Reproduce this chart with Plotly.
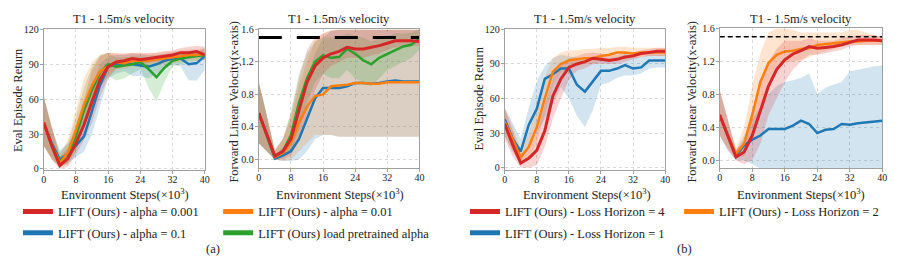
import plotly.graph_objects as go

# ---------------- data ----------------
STEPS = list(range(0, 41, 2))  # x 10^3 environment steps
X_TICKS = [0, 8, 16, 24, 32, 40]
RET_TICKS = [0, 30, 60, 90, 120]
VEL_TICKS = [0.0, 0.4, 0.8, 1.2, 1.6]
VEL_TICK_TEXT = ["0.0", "0.4", "0.8", "1.2", "1.6"]
TARGET_VEL = 1.5
TITLE = "T1 - 1.5m/s velocity"
XLABEL = "Environment Steps(×10<sup>3</sup>)"
YLABEL_RET = "Eval Episode Return"
YLABEL_VEL = "Forward Linear Velocity(x-axis)"

# Panel (a) - return
a_ret_red = [40, 20, 3, 9, 22, 38, 58, 77, 88, 92, 93, 95, 94, 95, 96, 97, 98, 100, 100, 101, 98]
a_ret_red_lo = [20, 8, 0, 2, 12, 25, 40, 62, 78, 86, 88, 90, 90, 91, 92, 93, 95, 96, 97, 97, 93]
a_ret_red_hi = [62, 35, 10, 18, 38, 60, 85, 97, 100, 99, 99, 100, 99, 100, 100, 101, 102, 104, 105, 106, 105]
a_ret_orange = [40, 20, 5, 14, 33, 55, 72, 84, 88, 92, 91, 93, 93, 93, 94, 95, 96, 97, 98, 98, 99]
a_ret_orange_lo = [20, 8, 1, 5, 18, 38, 55, 72, 80, 86, 86, 88, 88, 88, 89, 90, 91, 92, 93, 93, 94]
a_ret_orange_hi = [62, 36, 12, 25, 50, 78, 92, 98, 100, 100, 99, 100, 100, 99, 100, 101, 101, 102, 103, 103, 104]
a_ret_green = [40, 20, 7, 12, 28, 50, 68, 83, 90, 88, 89, 90, 92, 86, 79, 87, 93, 95, 96, 97, 98]
a_ret_green_lo = [20, 8, 2, 4, 15, 35, 52, 70, 80, 76, 78, 82, 86, 70, 58, 75, 88, 90, 92, 93, 94]
a_ret_green_hi = [62, 35, 14, 22, 45, 70, 88, 98, 100, 96, 96, 97, 97, 96, 95, 96, 98, 99, 100, 101, 102]
a_ret_blue = [40, 22, 8, 13, 20, 28, 50, 72, 88, 90, 91, 90, 89, 88, 90, 93, 95, 95, 90, 91, 97]
a_ret_blue_lo = [20, 10, 2, 5, 10, 15, 30, 55, 78, 82, 84, 80, 80, 78, 82, 86, 90, 88, 76, 76, 85]
a_ret_blue_hi = [62, 35, 16, 22, 32, 45, 72, 90, 97, 98, 98, 99, 99, 98, 98, 99, 100, 100, 100, 101, 104]

# Panel (a) - velocity
a_vel_red = [0.57, 0.30, 0.04, 0.10, 0.25, 0.60, 0.95, 1.15, 1.25, 1.30, 1.33, 1.38, 1.36, 1.36, 1.38, 1.40, 1.43, 1.46, 1.46, 1.46, 1.45]
a_vel_red_lo = [0.20, 0.10, 0.00, 0.00, 0.05, 0.25, 0.55, 0.85, 1.05, 1.15, 1.20, 1.25, 1.25, 1.25, 1.28, 1.30, 1.35, 1.38, 1.38, 1.40, 1.40]
a_vel_red_hi = [0.95, 0.55, 0.12, 0.25, 0.55, 1.00, 1.35, 1.50, 1.55, 1.58, 1.60, 1.60, 1.60, 1.60, 1.60, 1.60, 1.60, 1.60, 1.60, 1.60, 1.60]
a_vel_green = [0.57, 0.30, 0.04, 0.10, 0.30, 0.70, 1.00, 1.20, 1.28, 1.25, 1.26, 1.36, 1.30, 1.22, 1.17, 1.25, 1.30, 1.35, 1.39, 1.41, 1.49]
a_vel_green_lo = [0.20, 0.10, 0.00, 0.02, 0.10, 0.35, 0.70, 0.95, 1.05, 1.00, 1.00, 1.10, 1.00, 0.95, 0.90, 1.00, 1.10, 1.15, 1.20, 1.25, 1.35]
a_vel_green_hi = [0.95, 0.55, 0.12, 0.25, 0.60, 1.05, 1.30, 1.45, 1.50, 1.50, 1.50, 1.55, 1.52, 1.50, 1.45, 1.50, 1.52, 1.55, 1.55, 1.56, 1.60]
a_vel_blue = [0.57, 0.30, 0.01, 0.05, 0.10, 0.25, 0.50, 0.75, 0.88, 0.88, 0.88, 0.90, 0.94, 0.94, 0.93, 0.94, 0.96, 0.97, 0.96, 0.96, 0.96]
a_vel_blue_lo = [0.20, 0.10, 0.00, -0.02, -0.02, 0.00, 0.10, 0.25, 0.30, 0.30, 0.28, 0.28, 0.28, 0.28, 0.28, 0.28, 0.28, 0.28, 0.28, 0.28, 0.28]
a_vel_blue_hi = [0.95, 0.55, 0.05, 0.15, 0.30, 0.60, 1.00, 1.30, 1.50, 1.58, 1.60, 1.60, 1.60, 1.60, 1.60, 1.60, 1.60, 1.60, 1.60, 1.60, 1.60]
a_vel_orange = [0.57, 0.30, 0.03, 0.08, 0.20, 0.45, 0.65, 0.78, 0.80, 0.90, 0.91, 0.92, 0.94, 0.94, 0.93, 0.93, 0.95, 0.95, 0.95, 0.95, 0.95]
a_vel_orange_lo = [0.20, 0.10, 0.00, -0.02, 0.00, 0.10, 0.20, 0.30, 0.30, 0.30, 0.28, 0.28, 0.28, 0.28, 0.28, 0.28, 0.28, 0.28, 0.28, 0.28, 0.28]
a_vel_orange_hi = [0.95, 0.55, 0.10, 0.25, 0.50, 0.90, 1.20, 1.45, 1.55, 1.60, 1.60, 1.60, 1.60, 1.60, 1.60, 1.60, 1.60, 1.60, 1.60, 1.60, 1.60]

# Panel (b) - return
b_ret_red = [38, 20, 4, 8, 15, 32, 62, 77, 87, 90, 92, 95, 94, 93, 94, 96, 97, 99, 100, 101, 101]
b_ret_red_lo = [25, 10, 0, 0, 2, 18, 42, 60, 76, 84, 86, 90, 90, 90, 90, 92, 94, 96, 97, 97, 97]
b_ret_red_hi = [52, 32, 12, 18, 30, 55, 78, 90, 95, 97, 99, 100, 99, 98, 98, 100, 100, 102, 103, 104, 104]
b_ret_orange = [40, 25, 9, 18, 35, 60, 83, 90, 93, 94, 95, 95, 97, 98, 100, 100, 99, 100, 100, 100, 100]
b_ret_orange_lo = [28, 14, 3, 8, 22, 45, 70, 82, 86, 88, 90, 90, 92, 93, 94, 94, 95, 96, 97, 97, 97]
b_ret_orange_hi = [52, 36, 16, 30, 52, 78, 95, 100, 102, 102, 103, 103, 104, 104, 105, 105, 104, 104, 104, 104, 104]
b_ret_blue = [42, 25, 14, 37, 51, 77, 81, 86, 86, 72, 66, 75, 84, 84, 86, 89, 86, 87, 93, 93, 93]
b_ret_blue_lo = [28, 14, 5, 20, 30, 42, 55, 70, 60, 45, 35, 50, 72, 74, 78, 80, 80, 82, 86, 87, 87]
b_ret_blue_hi = [52, 38, 25, 52, 75, 88, 95, 98, 97, 95, 92, 95, 96, 95, 96, 98, 96, 96, 98, 98, 98]

# Panel (b) - velocity
b_vel_red = [0.55, 0.30, 0.04, 0.10, 0.30, 0.60, 0.90, 1.10, 1.22, 1.29, 1.33, 1.38, 1.36, 1.37, 1.38, 1.40, 1.43, 1.46, 1.46, 1.46, 1.45]
b_vel_red_lo = [0.30, 0.12, 0.00, -0.05, 0.00, 0.20, 0.55, 0.75, 0.95, 1.10, 1.20, 1.28, 1.28, 1.30, 1.32, 1.34, 1.38, 1.40, 1.40, 1.40, 1.40]
b_vel_red_hi = [0.85, 0.50, 0.12, 0.25, 0.60, 0.95, 1.20, 1.35, 1.45, 1.45, 1.45, 1.48, 1.45, 1.45, 1.45, 1.48, 1.50, 1.52, 1.52, 1.52, 1.50]
b_vel_orange = [0.55, 0.30, 0.08, 0.20, 0.55, 0.95, 1.18, 1.28, 1.32, 1.33, 1.35, 1.36, 1.40, 1.41, 1.42, 1.43, 1.44, 1.44, 1.45, 1.45, 1.45]
b_vel_orange_lo = [0.30, 0.15, 0.02, 0.05, 0.25, 0.65, 0.95, 1.10, 1.18, 1.20, 1.22, 1.25, 1.30, 1.32, 1.35, 1.38, 1.40, 1.40, 1.40, 1.40, 1.40]
b_vel_orange_hi = [0.85, 0.50, 0.15, 0.40, 0.90, 1.30, 1.55, 1.60, 1.60, 1.58, 1.55, 1.55, 1.55, 1.55, 1.55, 1.55, 1.58, 1.58, 1.55, 1.52, 1.50]
b_vel_blue = [0.55, 0.30, 0.06, 0.18, 0.25, 0.30, 0.38, 0.38, 0.38, 0.42, 0.48, 0.44, 0.33, 0.37, 0.38, 0.44, 0.43, 0.45, 0.46, 0.47, 0.48]
b_vel_blue_lo = [0.30, 0.12, 0.00, 0.00, -0.05, -0.10, -0.15, -0.15, -0.15, -0.15, -0.15, -0.15, -0.15, -0.15, -0.15, -0.15, -0.15, -0.15, -0.15, -0.15, -0.15]
b_vel_blue_hi = [0.85, 0.50, 0.12, 0.30, 0.50, 0.65, 0.80, 0.90, 0.95, 0.97, 1.00, 1.05, 0.80, 0.88, 0.92, 0.95, 1.08, 1.10, 1.12, 1.14, 1.15]

LEG_A = ["LIFT (Ours) - alpha = 0.001", "LIFT (Ours) - alpha = 0.1",
         "LIFT (Ours) - alpha = 0.01", "LIFT (Ours) load pretrained alpha"]
LEG_B = ["LIFT (Ours) - Loss Horizon = 4", "LIFT (Ours) - Loss Horizon = 1",
         "LIFT (Ours) - Loss Horizon = 2"]

# ---------------- style ----------------
RED, ORANGE, BLUE, GREEN = "#d62728", "#ff7f0e", "#1f77b4", "#2ca02c"
BAND = {RED: "rgba(214,39,40,0.2)", ORANGE: "rgba(255,127,14,0.2)",
        BLUE: "rgba(31,119,180,0.2)", GREEN: "rgba(44,160,44,0.2)"}
FONT = "Liberation Serif, Times New Roman, serif"
TXT = "#222222"
W, H = 914, 267
OFF = 8  # page body margin of the saved html


def px(xp):
    return (xp - OFF) / W


def py(yp):
    return 1 - (yp - OFF) / H


fig = go.Figure()


def axes(ax):
    return ("x", "y") if ax == "1" else ("x" + ax, "y" + ax)


def add_band(ax, lo, hi, color):
    xa, ya = axes(ax)
    fig.add_trace(go.Scatter(x=STEPS, y=lo, mode="lines", line=dict(width=0),
                             xaxis=xa, yaxis=ya, showlegend=False, hoverinfo="skip"))
    fig.add_trace(go.Scatter(x=STEPS, y=hi, mode="lines", line=dict(width=0),
                             fill="tonexty", fillcolor=BAND[color],
                             xaxis=xa, yaxis=ya, showlegend=False, hoverinfo="skip"))


def add_line(ax, mean, color, width):
    xa, ya = axes(ax)
    fig.add_trace(go.Scatter(x=STEPS, y=mean, mode="lines",
                             line=dict(color=color, width=width),
                             xaxis=xa, yaxis=ya, showlegend=False))


p1 = [(a_ret_blue, a_ret_blue_lo, a_ret_blue_hi, BLUE, 2.5),
      (a_ret_green, a_ret_green_lo, a_ret_green_hi, GREEN, 2.5),
      (a_ret_orange, a_ret_orange_lo, a_ret_orange_hi, ORANGE, 2.5),
      (a_ret_red, a_ret_red_lo, a_ret_red_hi, RED, 3)]
p2 = [(a_vel_blue, a_vel_blue_lo, a_vel_blue_hi, BLUE, 2.5),
      (a_vel_orange, a_vel_orange_lo, a_vel_orange_hi, ORANGE, 2.5),
      (a_vel_green, a_vel_green_lo, a_vel_green_hi, GREEN, 2.5),
      (a_vel_red, a_vel_red_lo, a_vel_red_hi, RED, 3)]
p3 = [(b_ret_blue, b_ret_blue_lo, b_ret_blue_hi, BLUE, 2.5),
      (b_ret_orange, b_ret_orange_lo, b_ret_orange_hi, ORANGE, 2.5),
      (b_ret_red, b_ret_red_lo, b_ret_red_hi, RED, 3)]
p4 = [(b_vel_blue, b_vel_blue_lo, b_vel_blue_hi, BLUE, 2.5),
      (b_vel_orange, b_vel_orange_lo, b_vel_orange_hi, ORANGE, 2.5),
      (b_vel_red, b_vel_red_lo, b_vel_red_hi, RED, 3)]

for ax, group in (("1", p1), ("2", p2), ("3", p3), ("4", p4)):
    for m, lo, hi, c, w in group:
        add_band(ax, lo, hi, c)
    for m, lo, hi, c, w in group:
        add_line(ax, m, c, w)

# target velocity dashed lines
fig.add_trace(go.Scatter(x=[STEPS[0], STEPS[-1]], y=[TARGET_VEL, TARGET_VEL], mode="lines",
                         line=dict(color="black", width=3, dash="23px,15px"),
                         xaxis="x2", yaxis="y2", showlegend=False))
fig.add_trace(go.Scatter(x=[STEPS[0], STEPS[-1]], y=[TARGET_VEL, TARGET_VEL], mode="lines",
                         line=dict(color="black", width=1.5, dash="5px,3px"),
                         xaxis="x4", yaxis="y4", showlegend=False))

# legend entries (dummy traces, one group each)
leg_specs = [(LEG_A[0], RED, "legend"), (LEG_A[1], BLUE, "legend"),
             (LEG_A[2], ORANGE, "legend2"), (LEG_A[3], GREEN, "legend2"),
             (LEG_B[0], RED, "legend3"), (LEG_B[1], BLUE, "legend3"),
             (LEG_B[2], ORANGE, "legend4")]
for i, (name, c, lg) in enumerate(leg_specs):
    fig.add_trace(go.Scatter(x=[None], y=[None], mode="lines", name=name,
                             legendgroup="g%d" % i,
                             line=dict(color=c, width=5), legend=lg, showlegend=True))

# ---------------- layout ----------------
panels = {  # left, right, top, bottom (px in reference picture)
    "1": (41, 203.5, 24, 170.5),
    "2": (258, 420, 24, 167.5),
    "3": (506, 668, 24, 170),
    "4": (723, 887, 23, 168.5),
}
yranges = {"1": [-1.3, 120], "2": [-0.1, 1.6], "3": [-2, 120], "4": [-0.1, 1.6]}

axis_common = dict(showline=True, mirror=True, linecolor="#a0a0a0", linewidth=1,
                   ticks="outside", ticklen=3, tickcolor="#a0a0a0",
                   showgrid=True, gridcolor="#d8d8d8", griddash="dot", gridwidth=1,
                   zeroline=False, tickfont=dict(family=FONT, size=10, color=TXT))
layout = dict(width=W, height=H, margin=dict(l=0, r=0, t=0, b=0),
              paper_bgcolor="white", plot_bgcolor="white",
              font=dict(family=FONT, size=12.5, color=TXT))
for k, (l, r, t, b) in panels.items():
    xn = "xaxis" if k == "1" else "xaxis" + k
    yn = "yaxis" if k == "1" else "yaxis" + k
    anchor_x = "y" if k == "1" else "y" + k
    anchor_y = "x" if k == "1" else "x" + k
    layout[xn] = dict(axis_common, domain=[px(l), px(r)], range=[0, 40],
                      tickvals=X_TICKS, anchor=anchor_x, ticklabelstandoff=-3)
    ydict = dict(axis_common, domain=[py(b), py(t)], range=yranges[k], anchor=anchor_y,
                 ticklabelstandoff=-1)
    if k in ("1", "3"):
        ydict["tickvals"] = RET_TICKS
    else:
        ydict["tickvals"] = VEL_TICKS
        ydict["ticktext"] = VEL_TICK_TEXT
    layout[yn] = ydict

leg_common = dict(orientation="v", xanchor="left", yanchor="top", bgcolor="rgba(0,0,0,0)",
                  font=dict(family=FONT, size=12.5, color=TXT), itemwidth=30,
                  traceorder="grouped", tracegroupgap=2)
leg_text_x = {"legend": 68, "legend2": 270, "legend3": 519, "legend4": 735}
for lg, xt in leg_text_x.items():
    layout[lg] = dict(leg_common, x=px(xt - 53), y=py(198))

fig.update_layout(**layout)

ann = []


def text_ann(txt, xp, yp, angle=0):
    ann.append(dict(text=txt, x=px(xp), y=py(yp), xref="paper", yref="paper",
                    xanchor="center", yanchor="middle", textangle=angle,
                    showarrow=False, font=dict(family=FONT, size=12.5, color=TXT)))


for cx in [122.5, 339, 587, 805]:
    text_ann(TITLE, cx, 13)
for cx in [123, 340, 589, 805]:
    text_ann(XLABEL, cx, 195)
for cx, cy, txt in [(15, 97.5, YLABEL_RET), (233, 99, YLABEL_VEL),
                    (480, 96, YLABEL_RET), (695, 99, YLABEL_VEL)]:
    text_ann(txt, cx, cy, -90)
text_ann("(a)", 212, 252)
text_ann("(b)", 687, 252)
fig.update_layout(annotations=ann)

fig.write_html("out.html")
